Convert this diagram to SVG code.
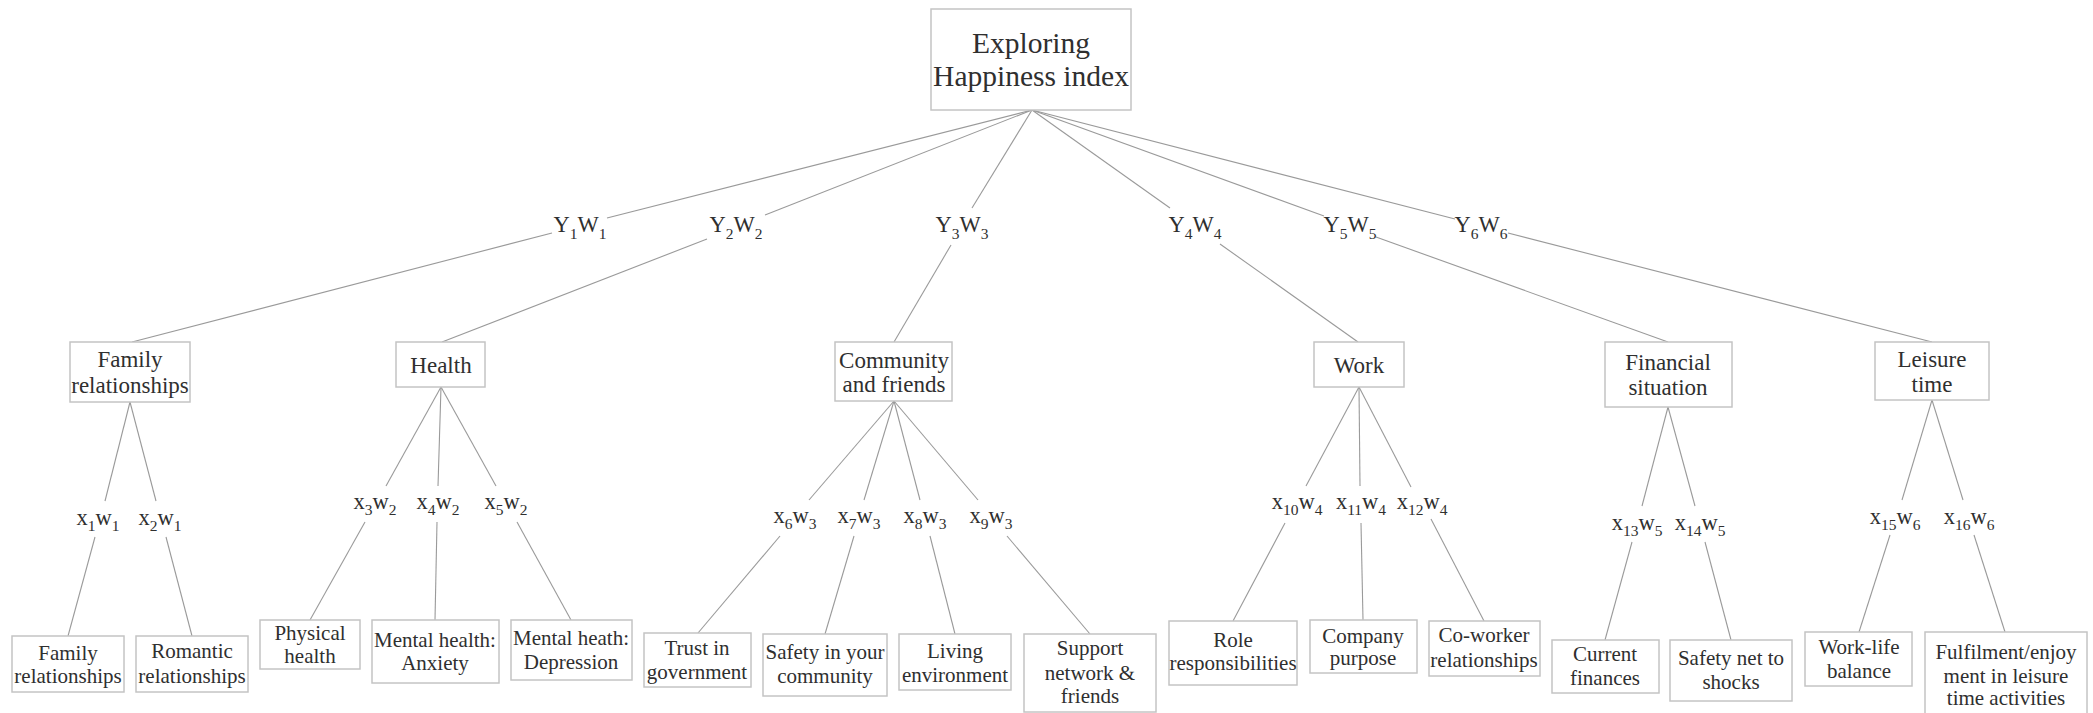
<svg xmlns="http://www.w3.org/2000/svg" width="2093" height="713" viewBox="0 0 2093 713">
<style>
  .box{fill:#fff;stroke:#c4c4c4;stroke-width:1.5}
  .t{font-family:"Liberation Serif","Times New Roman",serif;fill:#2f2f2f;text-anchor:middle}
  .title{font-size:29.5px}
  .l1{font-size:23px}
  .leaf{font-size:21px}
  .lab{font-family:"Liberation Serif","Times New Roman",serif;fill:#2f2f2f;text-anchor:middle;font-size:22.5px}
  .sub{font-size:15.5px}
  .c line{stroke:#9a9a9a;stroke-width:1.1}
</style>
<rect width="2093" height="713" fill="#fff"/>
<g id="connectors" class="c">
  <line x1="1032" y1="110" x2="607" y2="218"/><line x1="552" y1="233" x2="132" y2="342"/>
  <line x1="1032" y1="110" x2="765" y2="215"/><line x1="707" y1="239" x2="442" y2="342"/>
  <line x1="1032" y1="110" x2="972" y2="208"/><line x1="951" y1="245" x2="894" y2="342"/>
  <line x1="1032" y1="110" x2="1170" y2="208"/><line x1="1220" y1="244" x2="1358" y2="342"/>
  <line x1="1032" y1="110" x2="1324" y2="216"/><line x1="1376" y1="237" x2="1668" y2="342"/>
  <line x1="1032" y1="110" x2="1455" y2="219"/><line x1="1508" y1="233" x2="1932" y2="342"/>

  <line x1="130" y1="402" x2="105" y2="501"/><line x1="95" y1="537" x2="68" y2="636"/>
  <line x1="130" y1="402" x2="156" y2="501"/><line x1="166" y1="537" x2="192" y2="636"/>

  <line x1="441" y1="387" x2="386" y2="486"/><line x1="365" y1="522" x2="310" y2="620"/>
  <line x1="441" y1="387" x2="438" y2="486"/><line x1="437" y1="522" x2="435" y2="620"/>
  <line x1="441" y1="387" x2="496" y2="486"/><line x1="517" y1="522" x2="571" y2="620"/>

  <line x1="894" y1="401" x2="809" y2="500"/><line x1="780" y1="536" x2="698" y2="633"/>
  <line x1="894" y1="401" x2="864" y2="500"/><line x1="854" y1="536" x2="825" y2="634"/>
  <line x1="894" y1="401" x2="920" y2="500"/><line x1="930" y1="536" x2="955" y2="634"/>
  <line x1="894" y1="401" x2="978" y2="500"/><line x1="1007" y1="536" x2="1090" y2="634"/>

  <line x1="1359" y1="387" x2="1306" y2="486"/><line x1="1285" y1="523" x2="1233" y2="621"/>
  <line x1="1359" y1="387" x2="1360" y2="486"/><line x1="1361" y1="523" x2="1363" y2="620"/>
  <line x1="1359" y1="387" x2="1411" y2="487"/><line x1="1431" y1="519" x2="1484" y2="621"/>

  <line x1="1668" y1="407" x2="1642" y2="506"/><line x1="1632" y1="542" x2="1605" y2="640"/>
  <line x1="1668" y1="407" x2="1695" y2="506"/><line x1="1705" y1="542" x2="1731" y2="640"/>

  <line x1="1932" y1="400" x2="1902" y2="500"/><line x1="1890" y1="535" x2="1859" y2="632"/>
  <line x1="1932" y1="400" x2="1963" y2="500"/><line x1="1974" y1="535" x2="2005" y2="632"/>
</g>
<g id="edge-labels">
  <text class="lab" x="580" y="232">Y<tspan class="sub" dy="7">1</tspan><tspan dy="-7">W</tspan><tspan class="sub" dy="7">1</tspan></text>
  <text class="lab" x="736" y="232">Y<tspan class="sub" dy="7">2</tspan><tspan dy="-7">W</tspan><tspan class="sub" dy="7">2</tspan></text>
  <text class="lab" x="962" y="232">Y<tspan class="sub" dy="7">3</tspan><tspan dy="-7">W</tspan><tspan class="sub" dy="7">3</tspan></text>
  <text class="lab" x="1195" y="232">Y<tspan class="sub" dy="7">4</tspan><tspan dy="-7">W</tspan><tspan class="sub" dy="7">4</tspan></text>
  <text class="lab" x="1350" y="232">Y<tspan class="sub" dy="7">5</tspan><tspan dy="-7">W</tspan><tspan class="sub" dy="7">5</tspan></text>
  <text class="lab" x="1481" y="232">Y<tspan class="sub" dy="7">6</tspan><tspan dy="-7">W</tspan><tspan class="sub" dy="7">6</tspan></text>

  <text class="lab" x="98" y="525">x<tspan class="sub" dy="6">1</tspan><tspan dy="-6">w</tspan><tspan class="sub" dy="6">1</tspan></text>
  <text class="lab" x="160" y="525">x<tspan class="sub" dy="6">2</tspan><tspan dy="-6">w</tspan><tspan class="sub" dy="6">1</tspan></text>
  <text class="lab" x="375" y="509">x<tspan class="sub" dy="6">3</tspan><tspan dy="-6">w</tspan><tspan class="sub" dy="6">2</tspan></text>
  <text class="lab" x="438" y="509">x<tspan class="sub" dy="6">4</tspan><tspan dy="-6">w</tspan><tspan class="sub" dy="6">2</tspan></text>
  <text class="lab" x="506" y="509">x<tspan class="sub" dy="6">5</tspan><tspan dy="-6">w</tspan><tspan class="sub" dy="6">2</tspan></text>
  <text class="lab" x="795" y="523">x<tspan class="sub" dy="6">6</tspan><tspan dy="-6">w</tspan><tspan class="sub" dy="6">3</tspan></text>
  <text class="lab" x="859" y="523">x<tspan class="sub" dy="6">7</tspan><tspan dy="-6">w</tspan><tspan class="sub" dy="6">3</tspan></text>
  <text class="lab" x="925" y="523">x<tspan class="sub" dy="6">8</tspan><tspan dy="-6">w</tspan><tspan class="sub" dy="6">3</tspan></text>
  <text class="lab" x="991" y="523">x<tspan class="sub" dy="6">9</tspan><tspan dy="-6">w</tspan><tspan class="sub" dy="6">3</tspan></text>
  <text class="lab" x="1297" y="509">x<tspan class="sub" dy="6">10</tspan><tspan dy="-6">w</tspan><tspan class="sub" dy="6">4</tspan></text>
  <text class="lab" x="1361" y="509">x<tspan class="sub" dy="6">11</tspan><tspan dy="-6">w</tspan><tspan class="sub" dy="6">4</tspan></text>
  <text class="lab" x="1422" y="509">x<tspan class="sub" dy="6">12</tspan><tspan dy="-6">w</tspan><tspan class="sub" dy="6">4</tspan></text>
  <text class="lab" x="1637" y="530">x<tspan class="sub" dy="6">13</tspan><tspan dy="-6">w</tspan><tspan class="sub" dy="6">5</tspan></text>
  <text class="lab" x="1700" y="530">x<tspan class="sub" dy="6">14</tspan><tspan dy="-6">w</tspan><tspan class="sub" dy="6">5</tspan></text>
  <text class="lab" x="1895" y="524">x<tspan class="sub" dy="6">15</tspan><tspan dy="-6">w</tspan><tspan class="sub" dy="6">6</tspan></text>
  <text class="lab" x="1969" y="524">x<tspan class="sub" dy="6">16</tspan><tspan dy="-6">w</tspan><tspan class="sub" dy="6">6</tspan></text>
</g>

<g id="root"><rect class="box" x="931" y="9" width="200" height="101"/>
  <text class="t title" x="1031" y="53">Exploring</text><text class="t title" x="1031" y="86">Happiness index</text></g>

<g id="family"><rect class="box" x="70" y="342" width="120" height="60"/>
  <text class="t l1" x="130" y="367">Family</text><text class="t l1" x="130" y="393">relationships</text></g>
<g id="health"><rect class="box" x="396" y="342" width="89" height="45"/>
  <text class="t l1" x="441" y="373">Health</text></g>
<g id="community"><rect class="box" x="835" y="342" width="117" height="59"/>
  <text class="t l1" x="894" y="368">Community</text><text class="t l1" x="894" y="392">and friends</text></g>
<g id="work"><rect class="box" x="1314" y="342" width="90" height="45"/>
  <text class="t l1" x="1359" y="373">Work</text></g>
<g id="financial"><rect class="box" x="1605" y="342" width="127" height="65"/>
  <text class="t l1" x="1668" y="370">Financial</text><text class="t l1" x="1668" y="395">situation</text></g>
<g id="leisure"><rect class="box" x="1875" y="342" width="114" height="58"/>
  <text class="t l1" x="1932" y="367">Leisure</text><text class="t l1" x="1932" y="392">time</text></g>

<g id="leaf-family"><rect class="box" x="12" y="636" width="112" height="56"/>
  <text class="t leaf" x="68" y="660">Family</text><text class="t leaf" x="68" y="683">relationships</text></g>
<g id="leaf-romantic"><rect class="box" x="136" y="636" width="112" height="56"/>
  <text class="t leaf" x="192" y="658">Romantic</text><text class="t leaf" x="192" y="683">relationships</text></g>
<g id="leaf-physical"><rect class="box" x="260" y="620" width="100" height="49"/>
  <text class="t leaf" x="310" y="640">Physical</text><text class="t leaf" x="310" y="663">health</text></g>
<g id="leaf-anxiety"><rect class="box" x="372" y="620" width="127" height="63"/>
  <text class="t leaf" x="435" y="647">Mental health:</text><text class="t leaf" x="435" y="670">Anxiety</text></g>
<g id="leaf-depression"><rect class="box" x="511" y="620" width="121" height="60"/>
  <text class="t leaf" x="571" y="645">Mental heath:</text><text class="t leaf" x="571" y="669">Depression</text></g>
<g id="leaf-trust"><rect class="box" x="644" y="633" width="107" height="54"/>
  <text class="t leaf" x="697" y="655">Trust in</text><text class="t leaf" x="697" y="679">government</text></g>
<g id="leaf-safety"><rect class="box" x="763" y="634" width="124" height="62"/>
  <text class="t leaf" x="825" y="659">Safety in your</text><text class="t leaf" x="825" y="683">community</text></g>
<g id="leaf-living"><rect class="box" x="899" y="634" width="112" height="56"/>
  <text class="t leaf" x="955" y="658">Living</text><text class="t leaf" x="955" y="682">environment</text></g>
<g id="leaf-support"><rect class="box" x="1024" y="634" width="132" height="78"/>
  <text class="t leaf" x="1090" y="655">Support</text><text class="t leaf" x="1090" y="680">network &amp;</text><text class="t leaf" x="1090" y="703">friends</text></g>
<g id="leaf-role"><rect class="box" x="1169" y="621" width="128" height="64"/>
  <text class="t leaf" x="1233" y="647">Role</text><text class="t leaf" x="1233" y="670">responsibilities</text></g>
<g id="leaf-company"><rect class="box" x="1310" y="620" width="107" height="53"/>
  <text class="t leaf" x="1363" y="643">Company</text><text class="t leaf" x="1363" y="665">purpose</text></g>
<g id="leaf-coworker"><rect class="box" x="1429" y="621" width="111" height="55"/>
  <text class="t leaf" x="1484" y="642">Co-worker</text><text class="t leaf" x="1484" y="667">relationships</text></g>
<g id="leaf-current"><rect class="box" x="1552" y="640" width="107" height="53"/>
  <text class="t leaf" x="1605" y="661">Current</text><text class="t leaf" x="1605" y="685">finances</text></g>
<g id="leaf-safetynet"><rect class="box" x="1670" y="640" width="122" height="61"/>
  <text class="t leaf" x="1731" y="665">Safety net to</text><text class="t leaf" x="1731" y="689">shocks</text></g>
<g id="leaf-worklife"><rect class="box" x="1805" y="632" width="107" height="54"/>
  <text class="t leaf" x="1859" y="654">Work-life</text><text class="t leaf" x="1859" y="678">balance</text></g>
<g id="leaf-fulfilment"><rect class="box" x="1925" y="632" width="162" height="84"/>
  <text class="t leaf" x="2006" y="659">Fulfilment/enjoy</text><text class="t leaf" x="2006" y="683">ment in leisure</text><text class="t leaf" x="2006" y="705">time activities</text></g>
</svg>
